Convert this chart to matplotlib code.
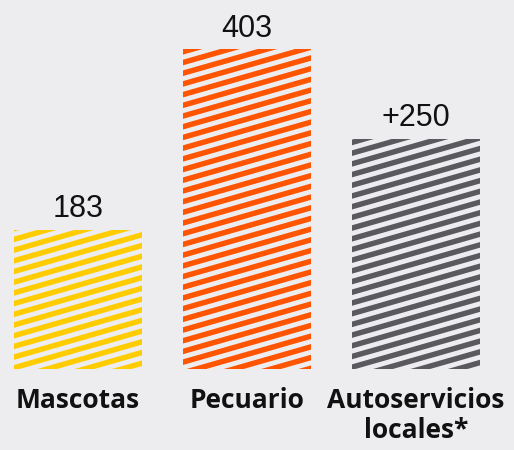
import numpy as np
import matplotlib.pyplot as plt
import matplotlib.transforms as mtransforms

categories = ['Mascotas', 'Pecuario', 'Autoservicios\nlocales*']
value_labels = ['183', '403', '+250']
# bar heights as drawn in the picture (the chart is not to scale)
heights = [183, 421, 303]
colors = ['#FFCC00', '#FF5500', '#5A5A5E']

W, H = 514, 450
fig = plt.figure(figsize=(W / 100, H / 100), dpi=100, facecolor='#EDEDF0')
base_px = 81
ax = fig.add_axes([0, base_px / H, 1, 1 - base_px / H])
ax.set_facecolor('none')

px_per_unit = 139 / 183
ax.set_ylim(0, (H - base_px) / px_per_unit)
spacing = 169
ax.set_xlim(-78 / spacing, 2 + (W - 416) / spacing)
x = np.arange(len(categories))

bars = ax.bar(x, heights, width=128 / spacing, color='none', edgecolor='none')

# shallow diagonal stripes, drawn in pixel space and clipped to each bar
ident = mtransforms.IdentityTransform()
slope = np.tan(np.radians(16))
for bar, c in zip(bars, colors):
    for off in np.arange(-200, 500, 10.7):
        xs = np.array([0, W])
        ln, = ax.plot(xs, xs * slope + off, color=c, lw=3.9,
                      transform=ident, solid_capstyle='butt')
        ln.set_clip_path(bar)

for bar, lab in zip(bars, value_labels):
    ax.annotate(lab, (bar.get_x() + bar.get_width() / 2, bar.get_height()),
                xytext=(0, 4), textcoords='offset points', ha='center', va='bottom',
                fontsize=22, family='Liberation Sans', color='#111111')

ax.set_xticks(x, categories)
ax.tick_params(axis='x', length=0, pad=13)
for t in ax.get_xticklabels():
    t.set_fontsize(19)
    t.set_fontfamily('Open Sans')
    t.set_fontweight('bold')
    t.set_color('#111111')
    t.set_linespacing(1.15)
ax.set_yticks([])
for s in ax.spines.values():
    s.set_visible(False)

fig.savefig('out.png', dpi=100, facecolor=fig.get_facecolor())
